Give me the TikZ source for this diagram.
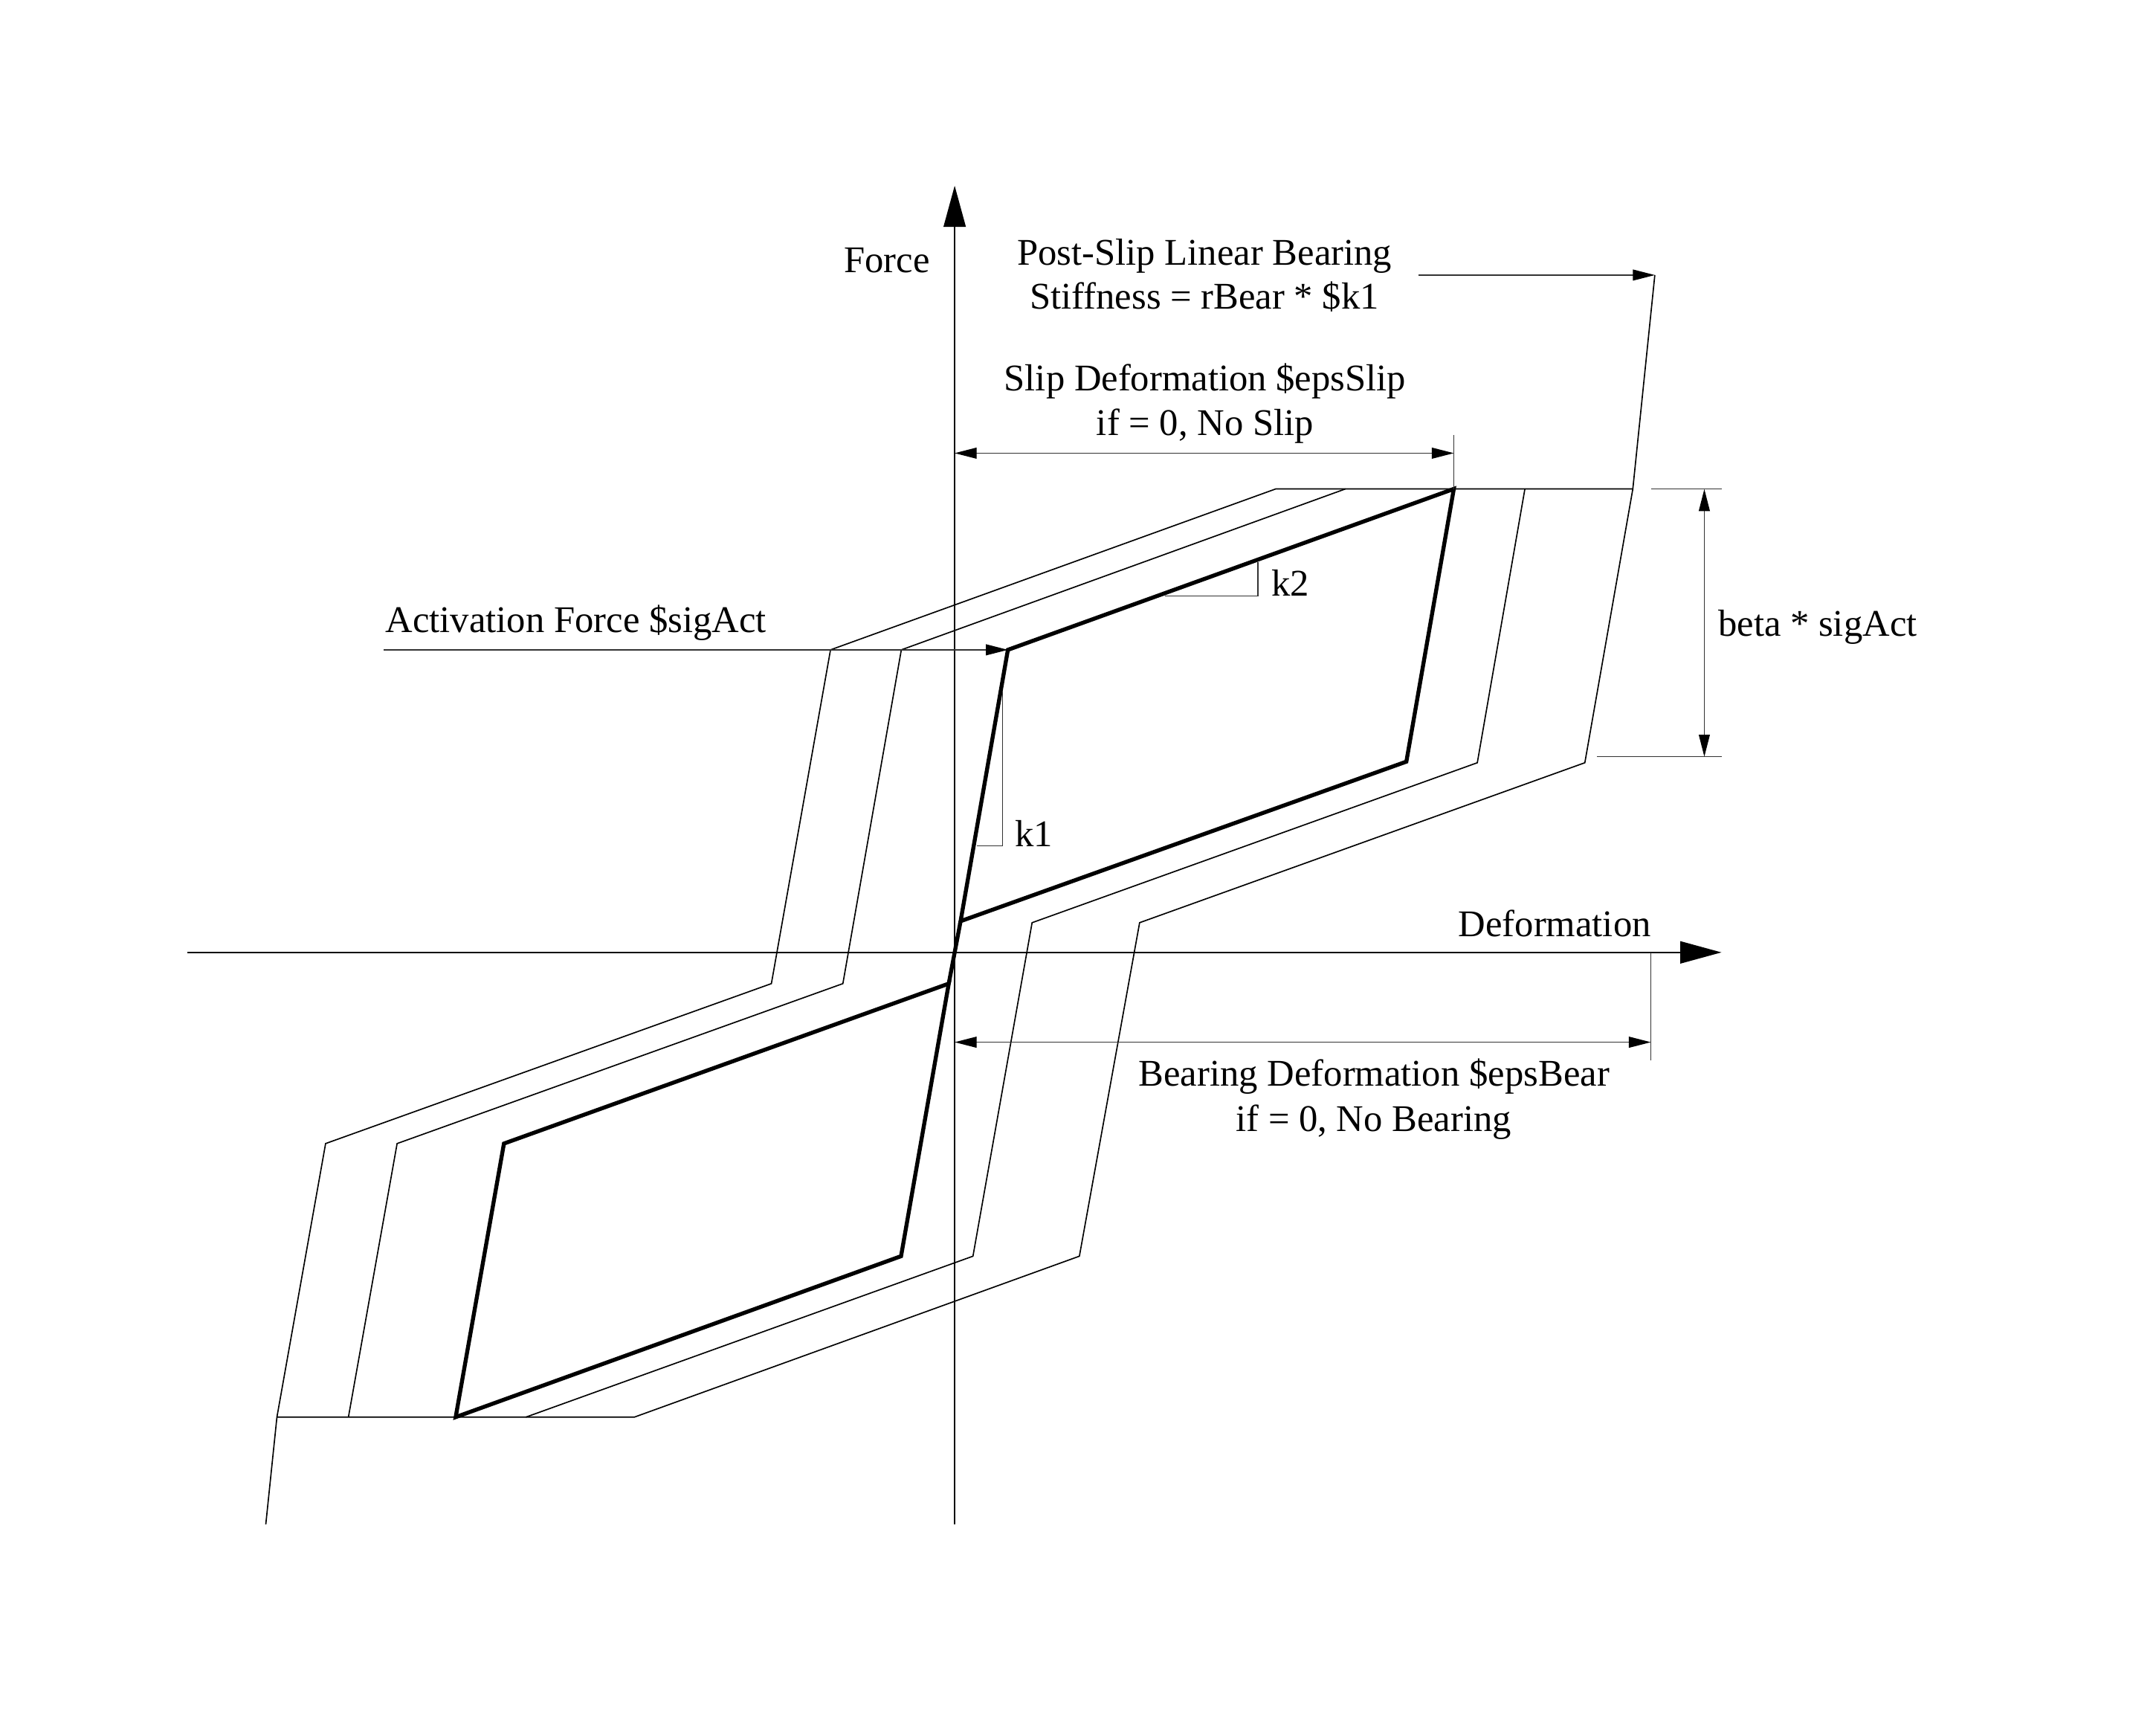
\documentclass[tikz,border=0pt]{standalone}
\usepackage{fontspec}
\setmainfont{Liberation Serif}
\usetikzlibrary{arrows.meta}
\begin{document}
\begin{tikzpicture}[x=0.5pt,y=-0.5pt,
  axisline/.style={line width=0.7pt, -{Triangle[length=15pt,width=8pt]}},
  thincurve/.style={line width=0.45pt, line join=miter},
  boldcurve/.style={line width=1.45pt, line join=miter},
  dimline/.style={line width=0.35pt, black!80},
  dimarrow/.style={dimline, {Triangle[length=8pt,width=4pt,color=black]}-{Triangle[length=8pt,width=4pt,color=black]}},
  leadarrow/.style={dimline, -{Triangle[length=8pt,width=4pt,color=black]}},
  lbl/.style={font=\fontsize{13.7}{16}\selectfont, inner sep=0pt, anchor=base},
  lblw/.style={lbl, anchor=base west}
]
\path[use as bounding box] (0,0) rectangle (1568,1244);

% axes
\coordinate (O) at (694.3,692.5);
\coordinate (ybot) at (694.3,1108.4);
\coordinate (ytop) at (694.3,135);
\coordinate (xleft) at (136.3,692.5);
\coordinate (xright) at (1252,692.5);
\draw[axisline] (ybot) -- (ytop);
\draw[axisline] (xleft) -- (xright);

% bold loops
\coordinate (A) at (698.6,669.8);
\coordinate (B) at (733,472.5);
\coordinate (C) at (1057.3,355.5);
\coordinate (D) at (1022.8,553.8);
\coordinate (A2) at (690,715.2);
\coordinate (B2) at (655.3,913.4);
\coordinate (C2) at (331.4,1030.4);
\coordinate (D2) at (366.5,831.5);
\draw[boldcurve] (A) -- (B) -- (C) -- (D) -- cycle;
\draw[boldcurve] (A2) -- (B2) -- (C2) -- (D2) -- cycle;
\draw[boldcurve] (A) -- (A2);

% thin curves
\coordinate (L1a) at (193.3,1108.4);
\coordinate (L1b) at (201.4,1030.4);
\coordinate (L1c) at (236.8,831.5);
\coordinate (L1d) at (561,715.2);
\coordinate (L1e) at (604,472.5);
\coordinate (L1f) at (927.8,355.5);
\coordinate (L1g) at (1187.5,355.5);
\coordinate (L1h) at (1203.5,200);
\draw[thincurve] (L1a) -- (L1b) -- (L1c) -- (L1d) -- (L1e) -- (L1f) -- (L1g) -- (L1h);

\coordinate (R2b) at (1152.6,554.6);
\coordinate (R2c) at (828.8,670.9);
\coordinate (R2d) at (785,913.4);
\coordinate (R2e) at (461.4,1030.4);
\draw[thincurve] (L1g) -- (R2b) -- (R2c) -- (R2d) -- (R2e) -- (L1b);

\coordinate (L2a) at (253.4,1030.4);
\coordinate (L2b) at (288.8,831.5);
\coordinate (L2c) at (613,715.2);
\coordinate (L2d) at (655.5,472.5);
\coordinate (L2e) at (978.5,355.5);
\draw[thincurve] (L2a) -- (L2b) -- (L2c) -- (L2d) -- (L2e);

\coordinate (R1a) at (1109,355.5);
\coordinate (R1b) at (1074.4,554.6);
\coordinate (R1c) at (750.6,670.9);
\coordinate (R1d) at (707.6,913.4);
\coordinate (R1e) at (382.5,1030.4);
\draw[thincurve] (R1a) -- (R1b) -- (R1c) -- (R1d) -- (R1e);

% slope markers
\coordinate (k1a) at (729.3,503);
\coordinate (k1b) at (729.3,615);
\coordinate (k1c) at (710.6,615);
\draw[dimline] (k1a) -- (k1b) -- (k1c);
\coordinate (k2a) at (847.3,433.5);
\coordinate (k2b) at (914.8,433.5);
\coordinate (k2c) at (914.8,409);
\draw[dimline] (k2a) -- (k2b) -- (k2c);

% activation force lead
\coordinate (actS) at (279,472.5);
\draw[leadarrow] (actS) -- (B);

% post-slip lead
\coordinate (psS) at (1031.8,200);
\draw[leadarrow] (psS) -- (L1h);

% slip dimension
\coordinate (slL) at (694.3,329.5);
\coordinate (slR) at (1057.3,329.5);
\coordinate (slT) at (1057.3,316.3);
\draw[dimline] (slT) -- (C);
\draw[dimarrow] (slL) -- (slR);

% bearing dimension
\coordinate (brL) at (694.3,757.8);
\coordinate (brR) at (1200.6,757.8);
\coordinate (brT) at (1200.6,692.5);
\coordinate (brB) at (1200.6,771);
\draw[dimline] (brT) -- (brB);
\draw[dimarrow] (brL) -- (brR);

% beta dimension
\coordinate (bt1) at (1200.7,355.6);
\coordinate (bt2) at (1252.2,355.6);
\coordinate (bb1) at (1161.3,550.2);
\coordinate (bb2) at (1252.2,550.2);
\coordinate (bat) at (1239.5,355.6);
\coordinate (bab) at (1239.5,550.2);
\draw[dimline] (bt1) -- (bt2);
\draw[dimline] (bb1) -- (bb2);
\draw[dimarrow] (bat) -- (bab);

% labels
\node[lbl] (tForce) at (645,198.3) {Force};
\node[lbl] (tPS1) at (876,192.5) {Post-Slip Linear Bearing};
\node[lbl] (tPS2) at (876,224.4) {Stiffness = rBear * \$k1};
\node[lbl] (tSD1) at (876.4,283.9) {Slip Deformation \$epsSlip};
\node[lbl] (tSD2) at (876.4,316.3) {if = 0, No Slip};
\node[lblw] (tAct) at (280,459.6) {Activation Force \$sigAct};
\node[lblw] (tk2) at (924.5,433.5) {k2};
\node[lbl] (tbeta) at (1321.9,462.3) {beta * sigAct};
\node[lblw] (tk1) at (737.8,615.3) {k1};
\node[lbl] (tDef) at (1130.7,680.8) {Deformation};
\node[lbl] (tBD1) at (999.3,789.6) {Bearing Deformation \$epsBear};
\node[lbl] (tBD2) at (999,822.7) {if = 0, No Bearing};
\end{tikzpicture}
\end{document}
